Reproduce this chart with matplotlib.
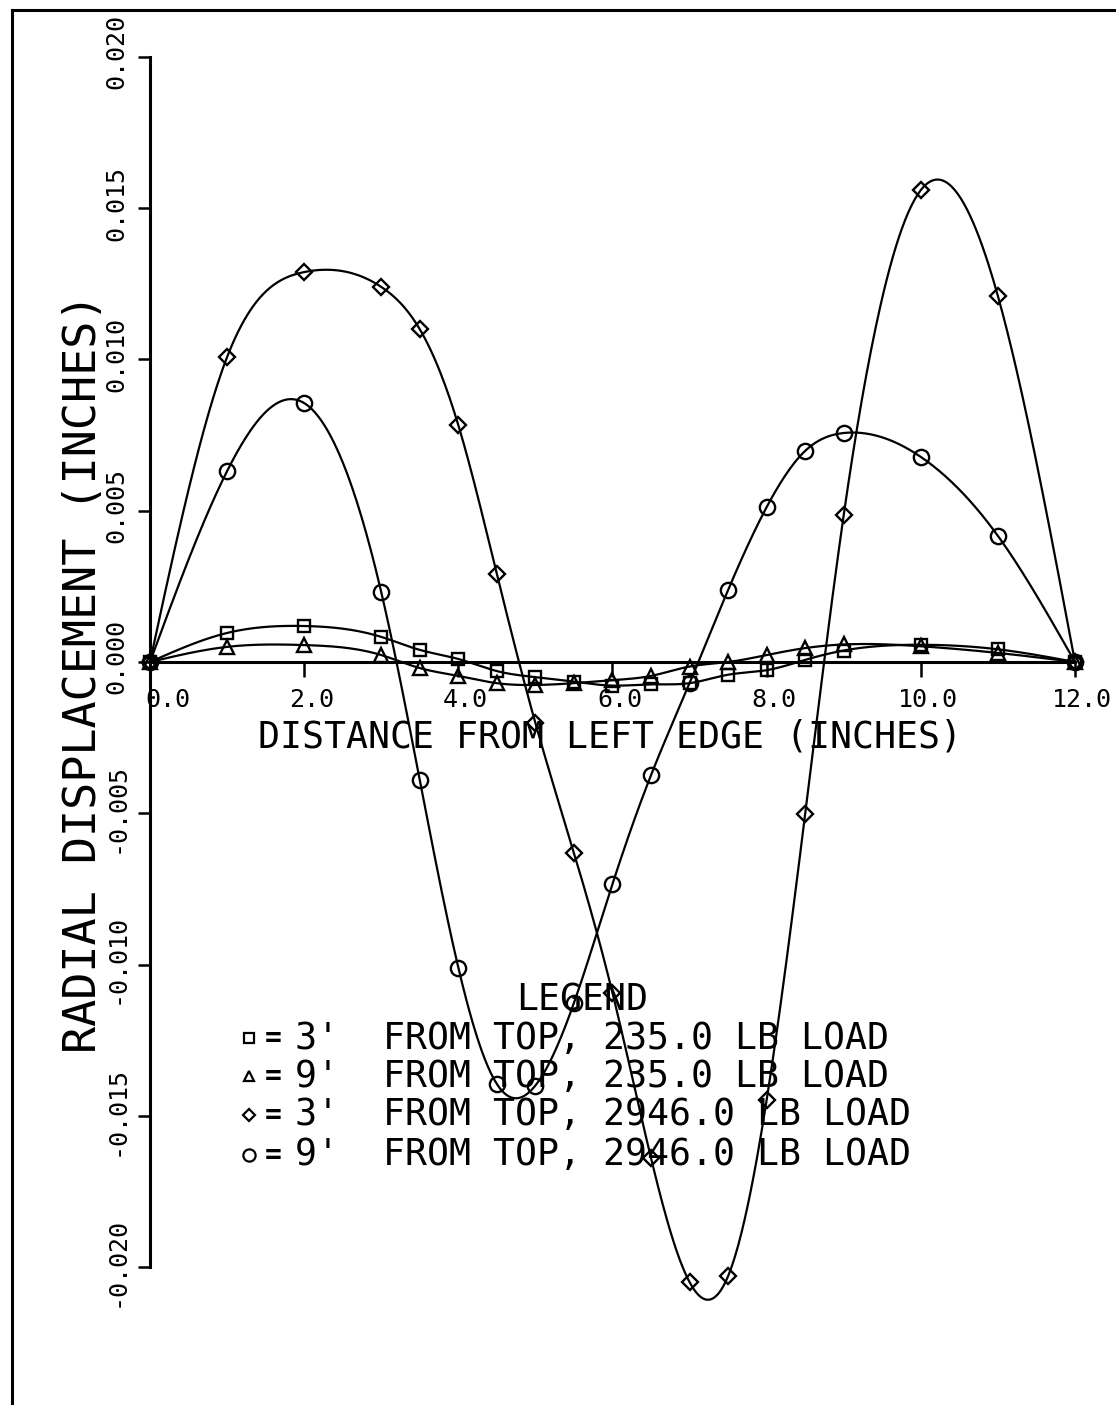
import numpy as np
import matplotlib
matplotlib.use("Agg")
import matplotlib.pyplot as plt
from matplotlib.lines import Line2D
from matplotlib.transforms import ScaledTranslation

# Stations along the plate (inches from left edge)
stations = [0, 1, 2, 3, 3.5, 4, 4.5, 5, 5.5, 6, 6.5, 7, 7.5, 8, 8.5, 9, 10, 11, 12]

# Radial displacement (inches) at each station
top3_235 = [0, 0.00096, 0.00119, 0.00083, 0.00040, 0.00010, -0.00030, -0.00050,
            -0.00065, -0.00078, -0.00074, -0.00070, -0.00042, -0.00027, 0.00007,
            0.00038, 0.00057, 0.00042, 0]
top9_235 = [0, 0.00050, 0.00056, 0.00023, -0.00020, -0.00046, -0.00070, -0.00076,
            -0.00070, -0.00060, -0.00046, -0.00015, 0.00000, 0.00023, 0.00046,
            0.00058, 0.00052, 0.00030, 0]
top3_2946 = [0, 0.01008, 0.01289, 0.01240, 0.01100, 0.00783, 0.00291, -0.00202,
             -0.00631, -0.01094, -0.01640, -0.02050, -0.02030, -0.01448, -0.00502,
             0.00486, 0.01560, 0.01210, 0]
top9_2946 = [0, 0.00631, 0.00856, 0.00231, -0.00390, -0.01010, -0.01395, -0.01400,
             -0.01127, -0.00734, -0.00374, -0.00070, 0.00238, 0.00512, 0.00698,
             0.00757, 0.00678, 0.00417, 0]

legend_lines = ["3'  FROM TOP, 235.0 LB LOAD",
                "9'  FROM TOP, 235.0 LB LOAD",
                "3'  FROM TOP, 2946.0 LB LOAD",
                "9'  FROM TOP, 2946.0 LB LOAD"]

xticks = [0, 2, 4, 6, 8, 10, 12]
yticks = [-0.020, -0.015, -0.010, -0.005, 0.000, 0.005, 0.010, 0.015, 0.020]


def natural_spline(x, y, num=600):
    """Smooth curve through the points (natural cubic spline)."""
    x = np.asarray(x, float)
    y = np.asarray(y, float)
    n = len(x)
    h = np.diff(x)
    A = np.zeros((n, n))
    r = np.zeros(n)
    A[0, 0] = A[-1, -1] = 1.0
    for i in range(1, n - 1):
        A[i, i - 1] = h[i - 1]
        A[i, i] = 2 * (h[i - 1] + h[i])
        A[i, i + 1] = h[i]
        r[i] = 3 * ((y[i + 1] - y[i]) / h[i] - (y[i] - y[i - 1]) / h[i - 1])
    c = np.linalg.solve(A, r)
    b = np.diff(y) / h - h * (2 * c[:-1] + c[1:]) / 3
    d = np.diff(c) / (3 * h)
    xs = np.linspace(x[0], x[-1], num)
    idx = np.clip(np.searchsorted(x, xs, side="right") - 1, 0, n - 2)
    t = xs - x[idx]
    ys = y[idx] + b[idx] * t + c[idx] * t ** 2 + d[idx] * t ** 3
    return xs, ys


W, H = 1116, 1405
FONT = "DejaVu Sans Mono"
plt.rcParams["font.family"] = [FONT, "DejaVu Sans"]

fig = plt.figure(figsize=(W / 100, H / 100), dpi=100)
ax = fig.add_axes([0, 0, 1, 1])
ax.patch.set_visible(False)

# pixel layout of the plotter page: origin at (150, 662), 77.08 px/in, 30250 px/unit
ax.set_xlim(-150 / 77.08, (W - 150) / 77.08)
ax.set_ylim(-(H - 662) / 30250, 662 / 30250)

series = [
    (top3_235, "s", 9),
    (top9_235, "^", 9.5),
    (top3_2946, "D", 8),
    (top9_2946, "o", 11),
]
for vals, mk, ms in series:
    xs, ys = natural_spline(stations, vals)
    ax.plot(xs, ys, color="black", lw=1.6, zorder=3)
    ax.plot(stations, vals, ls="none", marker=mk, ms=ms, mfc="none",
            mec="black", mew=1.7, zorder=4)

# axes drawn through the origin
for side in ("top", "right"):
    ax.spines[side].set_visible(False)
ax.spines["left"].set_position(("data", 0))
ax.spines["bottom"].set_position(("data", 0))
ax.spines["left"].set_bounds(-0.020, 0.020)
ax.spines["bottom"].set_bounds(0, 12)
for side in ("left", "bottom"):
    ax.spines[side].set_linewidth(2.2)
    ax.spines[side].set_zorder(2)

ax.set_xticks(xticks)
ax.set_xticklabels([f"{v:.1f}" for v in xticks])
ax.set_yticks(yticks)
ax.set_yticklabels([f"{v:.3f}" for v in yticks])
ax.tick_params(axis="x", direction="out", length=10.8, width=1.8, pad=8,
               labelsize=18)
ax.tick_params(axis="y", direction="out", length=8.6, width=1.8, pad=7,
               labelsize=18)

for i, lbl in enumerate(ax.get_xticklabels()):
    dx = 18 if i == 0 else 7
    lbl.set_transform(lbl.get_transform() + ScaledTranslation(dx / 100, 0, fig.dpi_scale_trans))
for lbl in ax.get_yticklabels():
    lbl.set_rotation(90)
    lbl.set_va("center")
    lbl.set_ha("right")
    lbl.set_transform(lbl.get_transform() + ScaledTranslation(0, 5 / 100, fig.dpi_scale_trans))

fig.text(610 / W, 1 - 737 / H, "DISTANCE FROM LEFT EDGE (INCHES)",
         ha="center", va="center", fontsize=26.3)
fig.text(84 / W, 1 - 673 / H, "RADIAL DISPLACEMENT (INCHES)",
         ha="center", va="center", rotation=90, fontsize=32.5)

# legend block
fig.text(582 / W, 1 - 1000 / H, "LEGEND", ha="center", va="center", fontsize=26.3)
row_y = [1038, 1076, 1115, 1155]
for (vals, mk, ms), text, yy in zip(series, legend_lines, row_y):
    fy = 1 - yy / H
    ax.plot([249 / W], [fy], transform=ax.transAxes, marker=mk, ms=ms * 0.8,
            mfc="none", mec="black", mew=1.6, clip_on=False)
    fig.text(273 / W, fy, "=", ha="center", va="center", fontsize=20,
             fontweight="bold")
    fig.text(295 / W, fy, text, ha="left", va="center", fontsize=26.3)

# page frame (left and top edges)
fig.add_artist(Line2D([12 / W, 12 / W], [0, 1 - 10 / H], transform=fig.transFigure,
                      color="black", lw=2.2))
fig.add_artist(Line2D([12 / W, 1], [1 - 10 / H, 1 - 10 / H], transform=fig.transFigure,
                      color="black", lw=2.2))

fig.savefig("out.png", dpi=100, facecolor="white")
